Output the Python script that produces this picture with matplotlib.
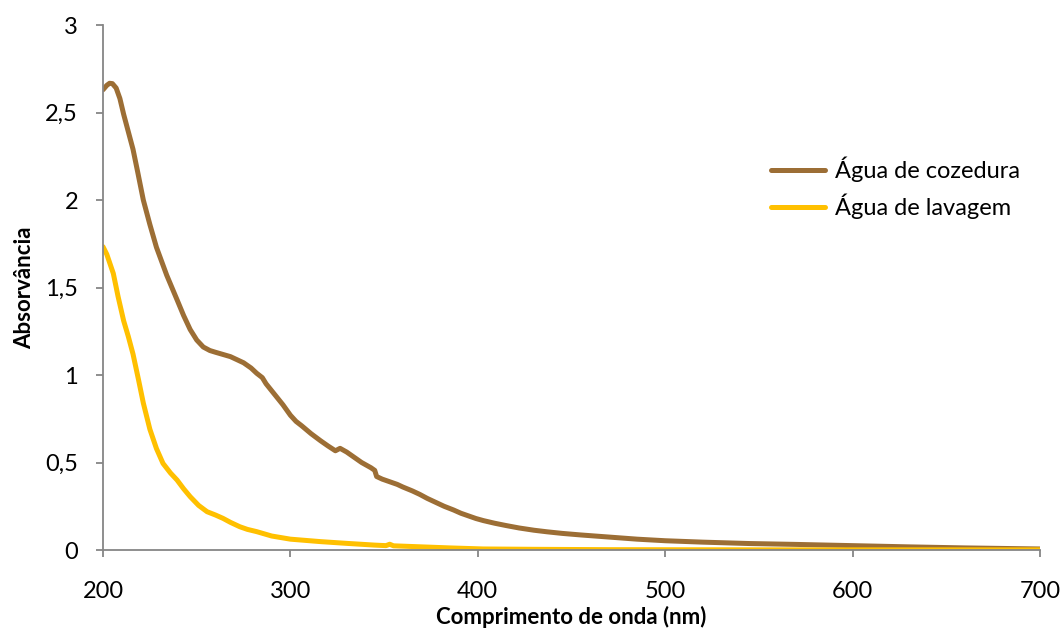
import matplotlib
matplotlib.use("Agg")
import matplotlib.pyplot as plt
from matplotlib.ticker import FuncFormatter

# comprimento de onda (nm) e absorvância
wl_cozedura = [200, 202, 203.5, 205, 207, 209, 211, 213.5, 216, 218.5, 221.5, 225, 228.5, 234, 239.5, 243,
               246.5, 250, 253.5, 257, 260, 268, 275, 279, 282, 285, 287, 290, 293, 296, 300, 303, 306,
               311, 316, 320, 324, 326.5, 330, 334, 338, 343, 345, 346, 349, 353, 357, 360, 365, 369,
               373, 378, 382, 387, 391, 395, 399, 403, 409, 415, 422, 430, 437, 445, 455, 470, 485,
               500, 520, 545, 570, 600, 630, 660, 700]
abs_cozedura = [2.63, 2.655, 2.667, 2.665, 2.64, 2.58, 2.49, 2.39, 2.29, 2.16, 2.0, 1.86, 1.73, 1.57, 1.43, 1.34,
                1.26, 1.2, 1.16, 1.14, 1.13, 1.105, 1.07, 1.04, 1.01, 0.985, 0.95, 0.91, 0.87, 0.83, 0.77, 0.735, 0.71,
                0.665, 0.625, 0.595, 0.567, 0.581, 0.56, 0.53, 0.5, 0.47, 0.455, 0.42, 0.405, 0.39, 0.375, 0.36, 0.338, 0.318,
                0.295, 0.27, 0.25, 0.229, 0.21, 0.195, 0.18, 0.168, 0.153, 0.14, 0.126, 0.113, 0.104, 0.095, 0.086, 0.074, 0.062,
                0.053, 0.045, 0.037, 0.032, 0.025, 0.018, 0.012, 0.006]

wl_lavagem = [200, 202, 205.5, 208, 211, 213.5, 216, 219, 221.5, 225, 228.5, 232, 236, 239.5, 243, 246.5, 251,
              255.5, 260, 264, 268, 273, 277, 282, 290, 300, 316, 330, 345, 351, 353, 355, 370, 385, 403,
              430, 470, 550, 700]
abs_lavagem = [1.733, 1.69, 1.58, 1.45, 1.31, 1.22, 1.12, 0.97, 0.84, 0.69, 0.58, 0.495, 0.44, 0.40, 0.35, 0.305, 0.255,
               0.219, 0.2, 0.181, 0.158, 0.133, 0.118, 0.105, 0.08, 0.062, 0.048, 0.038, 0.028, 0.025, 0.033, 0.024, 0.018, 0.012, 0.006,
               0.004, 0.002, 0.001, 0.001]

x_ticks = [200, 300, 400, 500, 600, 700]
y_ticks = [0, 0.5, 1, 1.5, 2, 2.5, 3]

plt.rcParams['font.family'] = ['Lato', 'DejaVu Sans']

fig = plt.figure(figsize=(10.61, 6.33), dpi=100)
ax = fig.add_axes([0.0971, 0.1311, 0.8831, 0.8294])

ax.plot(wl_cozedura, abs_cozedura, color='#9C6E35', lw=3.6, solid_capstyle='round',
        solid_joinstyle='round', label='Água de cozedura')
ax.plot(wl_lavagem, abs_lavagem, color='#FFC000', lw=3.6, solid_capstyle='round',
        solid_joinstyle='round', label='Água de lavagem')

ax.set_xlim(200, 700)
ax.set_ylim(0, 3)
ax.set_xticks(x_ticks)
ax.set_yticks(y_ticks)
ax.yaxis.set_major_formatter(FuncFormatter(lambda v, p: f"{v:g}".replace('.', ',')))

for s in ['top', 'right']:
    ax.spines[s].set_visible(False)
for s in ['left', 'bottom']:
    ax.spines[s].set_color('#868686')
    ax.spines[s].set_linewidth(1.3)
ax.tick_params(axis='both', direction='out', length=5, width=1.3, color='#868686',
               labelsize=17, labelcolor='black')
ax.tick_params(axis='y', pad=13)
ax.tick_params(axis='x', pad=17)

ax.set_xlabel('Comprimento de onda (nm)', fontsize=16, fontweight='bold', labelpad=3)
ax.set_ylabel('Absorvância', fontsize=16, fontweight='bold', labelpad=7)

ax.legend(loc='upper left', bbox_to_anchor=(0.69, 0.79), frameon=False, fontsize=17,
          handlelength=2.3, handletextpad=0.4, labelspacing=0.5)

plt.savefig('out.png', dpi=100)
